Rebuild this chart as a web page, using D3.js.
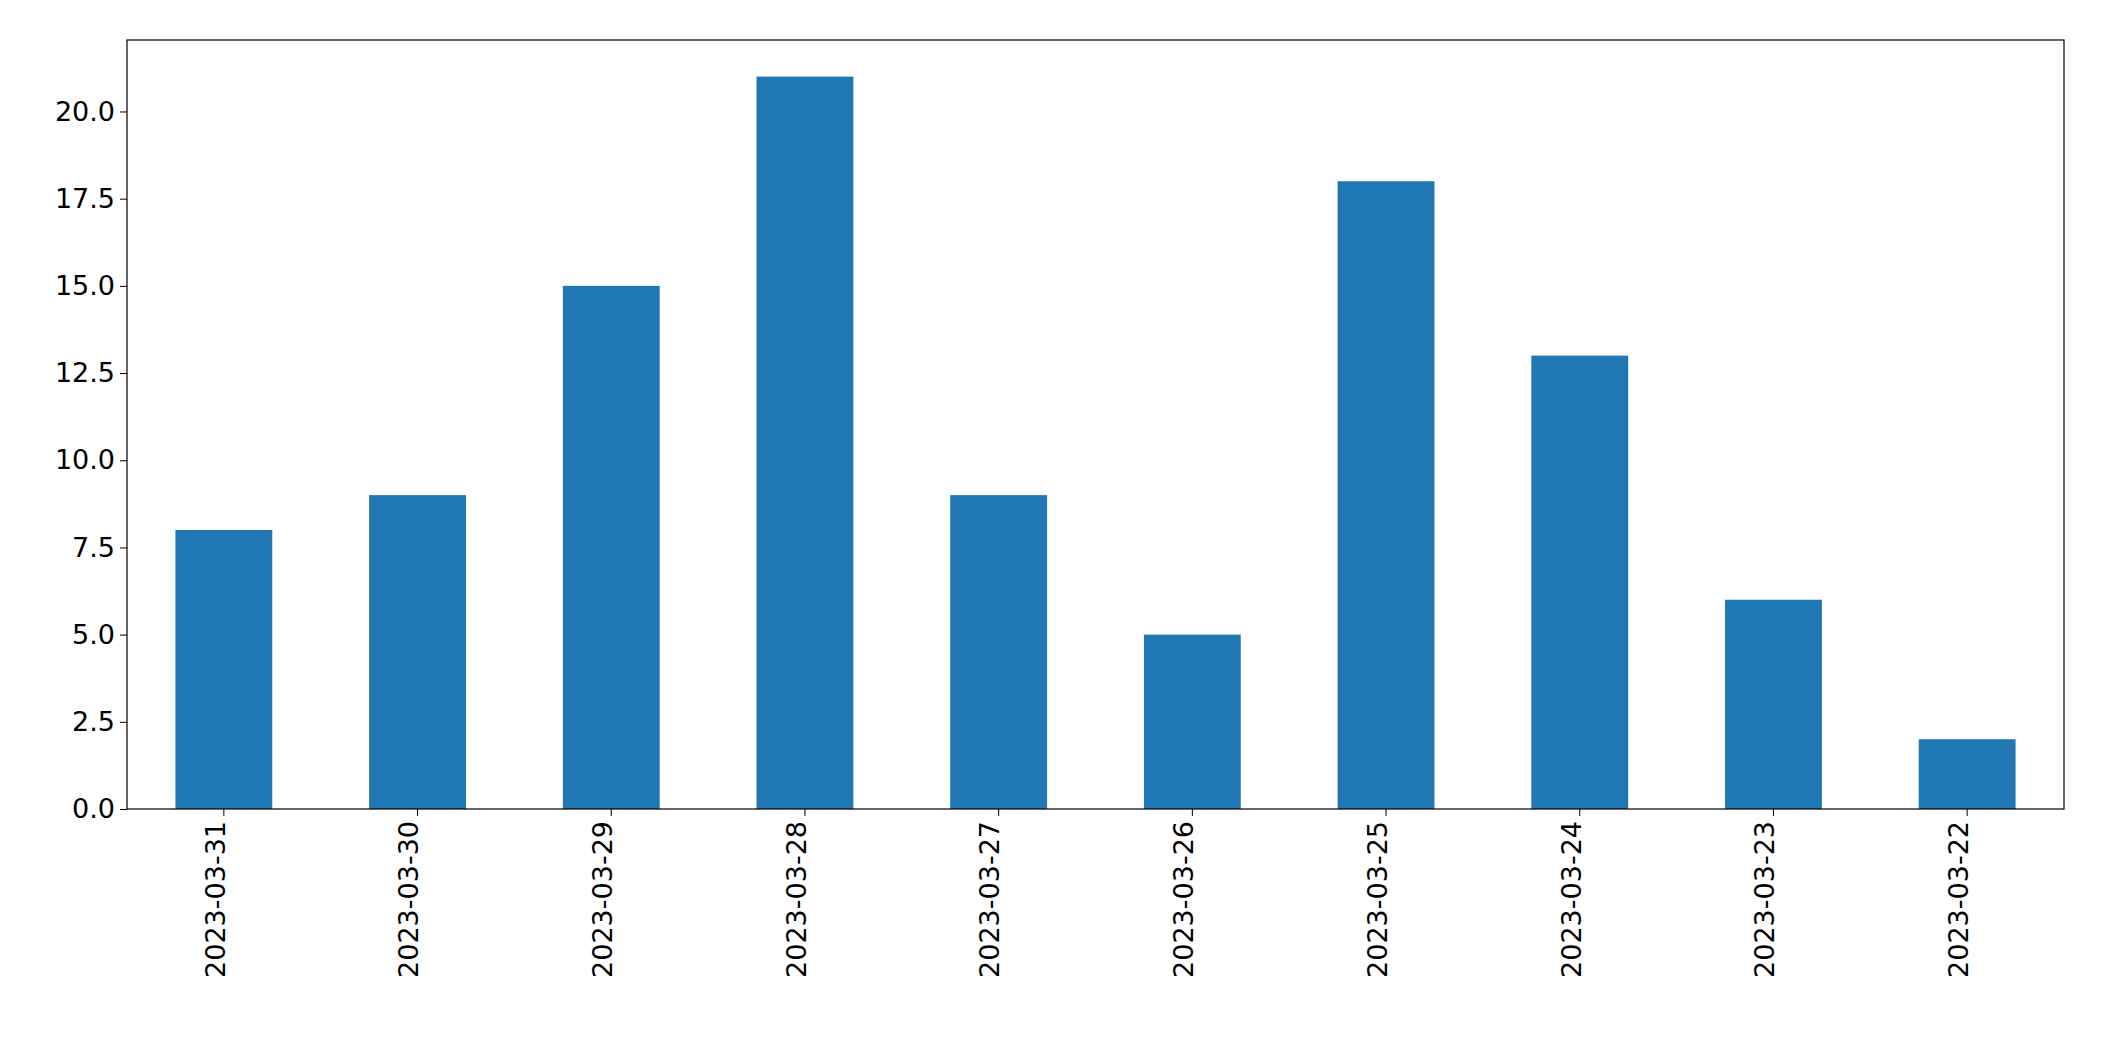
<!DOCTYPE html>
<html><head><meta charset="utf-8">
<script src="https://cdn.jsdelivr.net/npm/d3@7"></script>
<style>body{margin:0;background:#fff}text{font-family:"DejaVu Sans"}</style>
</head><body><svg id="c" width="2104" height="1061"></svg>
<script>
const categories=["2023-03-31","2023-03-30","2023-03-29","2023-03-28","2023-03-27","2023-03-26","2023-03-25","2023-03-24","2023-03-23","2023-03-22"];
const values=[8,9,15,21,9,5,18,13,6,2];
const yTicks=[0,2.5,5,7.5,10,12.5,15,17.5,20];
const m={l:127,r:2064,t:40,b:809};
const svg=d3.select("#c");
const x=d3.scaleBand().domain(categories).range([m.l,m.r]).paddingInner(0.5).paddingOuter(0.25);
const y=d3.scaleLinear().domain([0,22.05]).range([m.b,m.t]);
svg.selectAll("rect.bar").data(values).enter().append("rect")
 .attr("x",(d,i)=>x(categories[i])).attr("width",x.bandwidth())
 .attr("y",d=>y(d)).attr("height",d=>y(0)-y(d)).attr("fill","#1f77b4");
svg.append("rect").attr("x",m.l).attr("y",m.t).attr("width",m.r-m.l).attr("height",m.b-m.t).attr("fill","none").attr("stroke","#000").attr("stroke-width",1.2);
const ya=svg.append("g").attr("transform",`translate(${m.l},0)`).call(d3.axisLeft(y).tickValues(yTicks).tickFormat(d3.format(".1f")).tickSize(7).tickPadding(5));
ya.select(".domain").remove();
ya.selectAll("text").attr("font-size",27).attr("font-family","DejaVu Sans").attr("fill","#000");
const xa=svg.append("g").attr("transform",`translate(0,${m.b})`).call(d3.axisBottom(x).tickSize(7));
xa.select(".domain").remove();
xa.selectAll("text").attr("font-size",27).attr("font-family","DejaVu Sans").attr("fill","#000")
 .attr("transform","rotate(-90)").attr("text-anchor","end").attr("dx","-12").attr("dy","-0.25em").attr("x",0).attr("y",0)
 .attr("dominant-baseline","middle");
</script></body></html>
